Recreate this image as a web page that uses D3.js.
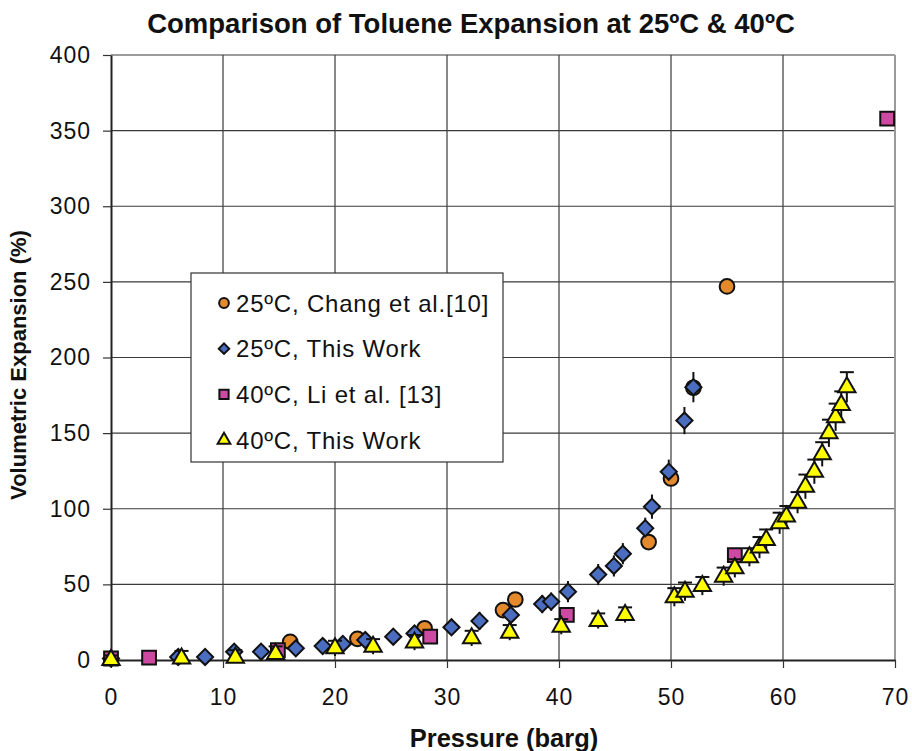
<!DOCTYPE html>
<html>
<head>
<meta charset="utf-8">
<script src="https://cdn.jsdelivr.net/npm/d3@7"></script>
<style>
  html, body { margin: 0; padding: 0; background: #fff; }
  svg { display: block; font-family: "Liberation Sans", Arial, sans-serif; }
</style>
</head>
<body>
<div id="chart"></div>
<script>
// data
const chang25P = [16.0, 22.0, 28.0, 35.0, 36.1, 48.0, 50.0, 52.0, 55.0];
const chang25V = [12, 14, 21, 33, 40, 78, 120, 180, 247];

const work25P = [0, 6.0, 8.4, 11.0, 13.4, 16.5, 18.9, 20.7, 22.7, 25.2, 27.1, 30.4, 32.9, 35.7, 38.5, 39.3, 40.8, 43.5, 44.9, 45.7, 47.7, 48.3, 49.8, 51.2, 52.0];
const work25V = [1, 2, 2, 5.5, 5.5, 7.7, 9.2, 10.6, 13.2, 15.4, 17.6, 21.6, 25.8, 29.8, 37, 38.6, 45.2, 56.5, 62.2, 70.3, 87.1, 101.4, 124.5, 158.3, 180.4];
const work25Err = [3, 5, 4, 5, 5, 5, 5, 5, 5, 5, 5, 5, 6, 6, 6, 6, 7, 7, 7, 7, 7, 8, 8, 9, 10];

const li40P = [0, 3.4, 14.9, 28.5, 40.7, 55.7, 69.3];
const li40V = [1, 1.5, 6.6, 15.4, 29.8, 69.4, 358];

const work40P = [0, 6.3, 11.1, 14.7, 20.0, 23.4, 27.1, 32.2, 35.6, 40.2, 43.5, 45.9, 50.3, 51.25, 52.8, 54.7, 55.7, 57.0, 57.9, 58.5, 59.7, 60.3, 61.3, 62.0, 62.8, 63.5, 64.1, 64.7, 65.2, 65.7];
const work40V = [0, 1, 1.5, 4, 7.7, 8.8, 11.5, 14.3, 18.1, 22, 25.8, 29.8, 41.5, 45.2, 48.9, 55.1, 60.6, 67.9, 74.3, 79.3, 90.4, 94.8, 104, 114.6, 124.5, 136, 149.9, 160.5, 168.6, 180.3];
const work40Err = [3, 5, 5, 5, 5, 5, 5, 5, 5, 5, 5, 5, 6, 6, 6, 6, 6, 6, 7, 7, 7, 7, 7, 8, 8, 8, 9, 9, 9, 10];

const xTicks = [0, 10, 20, 30, 40, 50, 60, 70];
const yTicks = [0, 50, 100, 150, 200, 250, 300, 350, 400];
const legendLabels = ['25ºC, Chang et al.[10]', '25ºC, This Work', '40ºC, Li et al. [13]', '40ºC, This Work'];

const W = 912, H = 751;
const m = { left: 111, right: 17, top: 55, bottom: 91 };

const svg = d3.select('#chart').append('svg').attr('width', W).attr('height', H);

const x = d3.scaleLinear().domain([0, 70]).range([m.left, W - m.right]);
const y = d3.scaleLinear().domain([0, 400]).range([H - m.bottom, m.top]);

// grid
svg.append('g').selectAll('line').data(xTicks.slice(1, -1)).join('line')
  .attr('x1', d => x(d)).attr('x2', d => x(d)).attr('y1', y(0)).attr('y2', y(400))
  .attr('stroke', '#3a3a3a').attr('stroke-width', 1.2);
svg.append('g').selectAll('line').data(yTicks.slice(1)).join('line')
  .attr('x1', x(0)).attr('x2', x(70)).attr('y1', d => y(d)).attr('y2', d => y(d))
  .attr('stroke', '#3a3a3a').attr('stroke-width', 1.2);
svg.append('line').attr('x1', x(70)).attr('x2', x(70)).attr('y1', y(0)).attr('y2', y(400))
  .attr('stroke', '#9a9a9a').attr('stroke-width', 2);

// axes
const xAxis = svg.append('g').attr('transform', `translate(0,${y(0)})`)
  .call(d3.axisBottom(x).tickValues(xTicks).tickSize(8).tickSizeOuter(0).tickPadding(21));
const yAxis = svg.append('g').attr('transform', `translate(${x(0)},0)`)
  .call(d3.axisLeft(y).tickValues(yTicks).tickSize(8).tickSizeOuter(0).tickPadding(12));
[xAxis, yAxis].forEach(a => {
  a.selectAll('path').attr('stroke', '#222').attr('stroke-width', 2);
  a.selectAll('line').attr('stroke', '#333').attr('stroke-width', 1.2);
  a.selectAll('text').attr('font-size', 23).attr('fill', '#111')
    .attr('letter-spacing', 1)
    .attr('font-family', '"Liberation Sans", Arial, sans-serif');
});

// titles
svg.append('text').attr('x', 471).attr('y', 33).attr('text-anchor', 'middle')
  .attr('font-size', 27.5).attr('font-weight', 'bold').attr('fill', '#111')
  .text('Comparison of Toluene Expansion at 25ºC & 40ºC');
svg.append('text').attr('x', 504).attr('y', 747).attr('text-anchor', 'middle')
  .attr('font-size', 25.5).attr('font-weight', 'bold').attr('fill', '#111')
  .text('Pressure (barg)');
svg.append('text').attr('transform', 'translate(26,365) rotate(-90)').attr('text-anchor', 'middle')
  .attr('font-size', 22).attr('font-weight', 'bold').attr('fill', '#111')
  .text('Volumetric Expansion (%)');

// marker shapes
const sym = {
  circle: d3.symbol().type(d3.symbolCircle).size(170),
  diamond: d3.symbol().type(d3.symbolSquare).size(130),
  square: d3.symbol().type(d3.symbolSquare).size(190),
  triangle: d3.symbol().type(d3.symbolTriangle).size(130)
};
const colors = { circle: '#E48A2C', diamond: '#4A6DC0', square: '#CC4AA2', triangle: '#FFFF00' };

const plot = svg.append('g');

// error bars
const d25 = work25P.map((p, i) => ({ p, v: work25V[i], e: work25Err[i] }));
const d40 = work40P.map((p, i) => ({ p, v: work40V[i], e: work40Err[i] }));

plot.append('g').selectAll('line').data(d25).join('line')
  .attr('x1', d => x(d.p)).attr('x2', d => x(d.p))
  .attr('y1', d => y(d.v + d.e)).attr('y2', d => y(Math.max(0, d.v - d.e)))
  .attr('stroke', '#111').attr('stroke-width', 2);

function drawPoints(P, V, type, rot) {
  plot.append('g').selectAll('path').data(P.map((p, i) => ({ p, v: V[i] }))).join('path')
    .attr('d', sym[type])
    .attr('transform', d => `translate(${x(d.p)},${y(d.v)})${rot ? ' rotate(45)' : ''}`)
    .attr('fill', colors[type]).attr('stroke', '#111').attr('stroke-width', 2);
}

drawPoints(chang25P, chang25V, 'circle');
drawPoints(work25P, work25V, 'diamond', true);
drawPoints(li40P, li40V, 'square');

const eb40 = plot.append('g').selectAll('g').data(d40).join('g');
eb40.append('line')
  .attr('x1', d => x(d.p)).attr('x2', d => x(d.p))
  .attr('y1', d => y(d.v + d.e)).attr('y2', d => y(Math.max(0, d.v - d.e)))
  .attr('stroke', '#111').attr('stroke-width', 2);
eb40.append('line')
  .attr('x1', d => x(d.p) - 7).attr('x2', d => x(d.p) + 7)
  .attr('y1', d => y(d.v + d.e)).attr('y2', d => y(d.v + d.e))
  .attr('stroke', '#111').attr('stroke-width', 2);

drawPoints(work40P, work40V, 'triangle');

// legend
const lg = svg.append('g').attr('transform', 'translate(191,273)');
lg.append('rect').attr('width', 312).attr('height', 189)
  .attr('fill', '#fff').attr('stroke', '#333').attr('stroke-width', 1.2);
const legendTypes = ['circle', 'diamond', 'square', 'triangle'];
const lsym = {
  circle: d3.symbol().type(d3.symbolCircle).size(75),
  diamond: d3.symbol().type(d3.symbolSquare).size(55),
  square: d3.symbol().type(d3.symbolSquare).size(85),
  triangle: d3.symbol().type(d3.symbolTriangle).size(70)
};
const row = lg.selectAll('g').data(legendLabels).join('g')
  .attr('transform', (d, i) => `translate(0,${30 + i * 45.7})`);
row.append('path')
  .attr('d', (d, i) => lsym[legendTypes[i]]())
  .attr('transform', (d, i) => `translate(33,0)${legendTypes[i] === 'diamond' ? ' rotate(45)' : ''}`)
  .attr('fill', (d, i) => colors[legendTypes[i]]).attr('stroke', '#111').attr('stroke-width', 2);
row.append('text').attr('x', 45).attr('dy', '0.36em')
  .attr('font-size', 24).attr('letter-spacing', 0.8).attr('fill', '#111').text(d => d);
</script>
</body>
</html>
